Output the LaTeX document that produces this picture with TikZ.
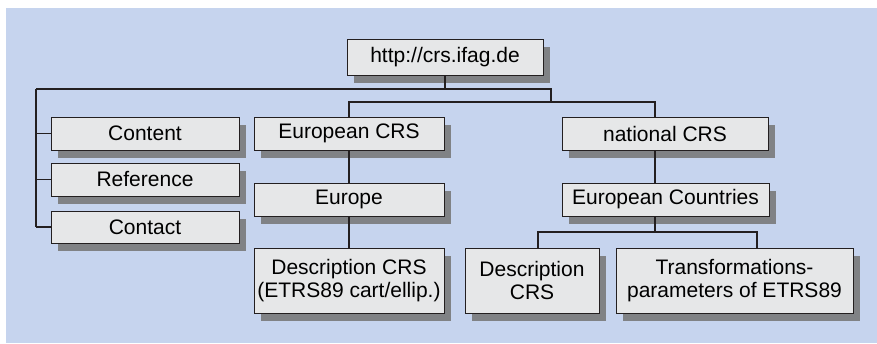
\documentclass[tikz,border=0pt]{standalone}
\usepackage{fontspec}
\setmainfont{Liberation Sans}
\usetikzlibrary{shadows}

\definecolor{bgblue}{HTML}{C6D4EE}
\definecolor{boxgray}{HTML}{E6E7E8}
\definecolor{shadowgray}{HTML}{808285}
\definecolor{linedark}{HTML}{231F20}

\tikzset{
  crsbox/.style={draw=linedark,line width=1pt,fill=boxgray,inner sep=0pt,align=center,
    font=\fontsize{21}{23}\selectfont,
    drop shadow={shadow xshift=7pt,shadow yshift=-8pt,fill=shadowgray,opacity=1}},
  link/.style={draw=linedark,line width=1.1pt}
}

\begin{document}
\begin{tikzpicture}[x=1pt,y=-1pt]
        \useasboundingbox (0,0) rectangle (877,343);
        \fill[bgblue] (6,8) rectangle (877,343);

        % top
        \node[crsbox,minimum width=196pt,minimum height=36pt] (url) at (445,57) {http://crs.ifag.de};

        % left column
        \node[crsbox,minimum width=188pt,minimum height=33pt] (content) at (145,133.5) {Content};
        \node[crsbox,minimum width=188pt,minimum height=33pt] (reference) at (145,179.5) {Reference};
        \node[crsbox,minimum width=188pt,minimum height=32pt] (contact) at (145,227) {Contact};

        % european branch
        \node[crsbox,minimum width=190pt,minimum height=33pt] (eucrs) at (349,133.5) {European CRS};
        \node[crsbox,minimum width=190pt,minimum height=33pt] (europe) at (349,199.5) {Europe};
        \node[crsbox,minimum width=190pt,minimum height=65pt] (eudesc) at (349,280.5) {Description CRS\\(ETRS89 cart/ellip.)};

        % national branch
        \node[crsbox,minimum width=206pt,minimum height=33pt] (natcrs) at (665,133.5) {national CRS};
        \node[crsbox,minimum width=207pt,minimum height=33pt] (countries) at (665.5,199.5) {European Countries};
        \node[crsbox,minimum width=134pt,minimum height=65pt] (natdesc) at (532,280.5) {Description\\CRS};
        \node[crsbox,minimum width=237pt,minimum height=65pt] (trans) at (734.5,280.5) {Transformations-\\parameters of ETRS89};

        % buses
        \coordinate (busw) at (36,89);
        \coordinate (buse) at (551,89);
        \coordinate (midw) at (349,102);
        \coordinate (mide) at (655,102);
        \coordinate (lowl) at (538,232);
        \coordinate (lowr) at (757,232);

        \draw[link] (url.south) -- (url.south |- busw);
        \draw[link] (busw) -- (buse) -- (buse |- midw);
        \draw[link] (busw) -- (busw |- contact.west);
        \foreach \n in {content,reference,contact}
                \draw[link] (busw |- \n.west) -- (\n.west);
        \draw[link] (eucrs.north) -- (midw) -- (mide) -- (natcrs.north -| mide);
        \draw[link] (eucrs.south) -- (europe.north);
        \draw[link] (europe.south) -- (eudesc.north);
        \draw[link] (natcrs.south -| mide) -- (countries.north -| mide);
        \draw[link] (countries.south -| mide) -- (mide |- lowl);
        \draw[link] (natdesc.north -| lowl) -- (lowl) -- (lowr) -- (trans.north -| lowr);
\end{tikzpicture}
\end{document}
